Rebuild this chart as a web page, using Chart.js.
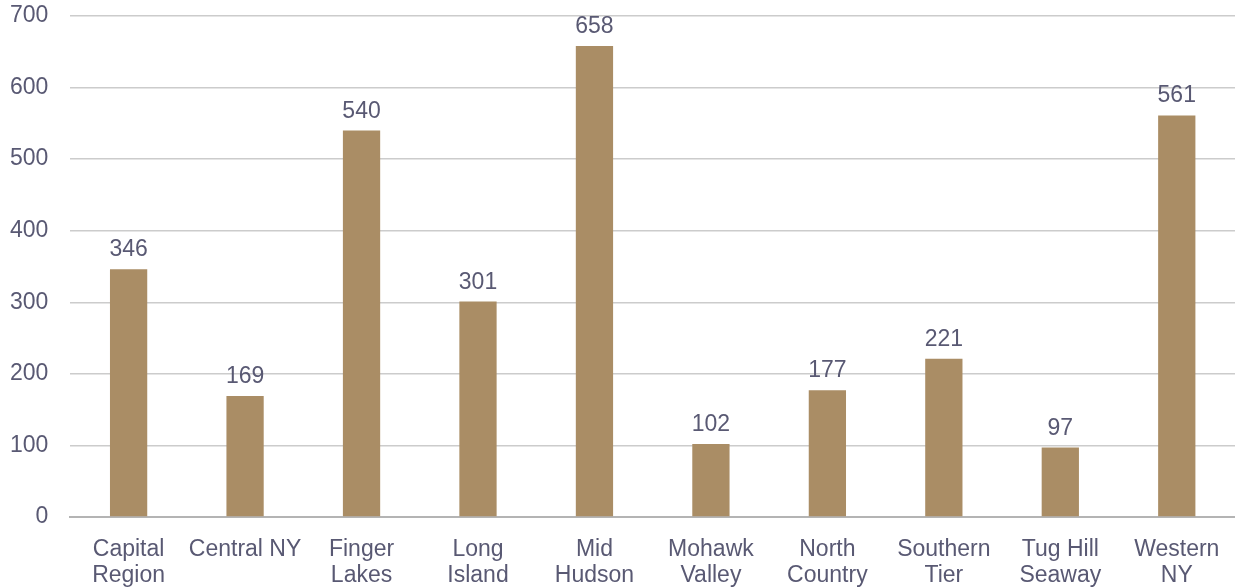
<!DOCTYPE html>
<html>
<head>
<meta charset="utf-8">
<script src="https://cdn.jsdelivr.net/npm/chart.js@4/dist/chart.umd.min.js"></script>
<style>
  html, body { margin: 0; padding: 0; background: #fff; }
  #wrap { width: 1235px; height: 587px; position: relative; }
</style>
</head>
<body>
<div id="wrap"><canvas id="chart-regions"></canvas></div>
<script>
const regions = [
  ['Capital', 'Region'], 'Central NY', ['Finger', 'Lakes'], ['Long', 'Island'],
  ['Mid', 'Hudson'], ['Mohawk', 'Valley'], ['North', 'Country'], ['Southern', 'Tier'],
  ['Tug Hill', 'Seaway'], ['Western', 'NY']
];
const counts = [346, 169, 540, 301, 658, 102, 177, 221, 97, 561];
const yTicks = [0, 100, 200, 300, 400, 500, 600, 700];

const textColor = '#595973';
const font = { family: '"Liberation Sans", Arial, sans-serif', size: 23 };

// value labels above each bar
const barValues = {
  id: 'barValues',
  afterDatasetsDraw(chart) {
    const ctx = chart.ctx;
    const meta = chart.getDatasetMeta(0);
    ctx.save();
    ctx.fillStyle = textColor;
    ctx.font = font.size + 'px ' + font.family;
    ctx.textAlign = 'center';
    ctx.textBaseline = 'alphabetic';
    meta.data.forEach(function(bar, i) {
      ctx.fillText(String(counts[i]), bar.x, bar.y - 13);
    });
    ctx.restore();
  }
};

window.generateRegionsChart = function() {
  const ctx = document.getElementById('chart-regions').getContext('2d');
  return new Chart(ctx, {
    type: 'bar',
    data: {
      labels: regions,
      datasets: [{
        label: 'Count',
        data: counts,
        backgroundColor: '#AA8D65',
        barPercentage: 0.32,
        categoryPercentage: 1
      }]
    },
    options: {
      responsive: true,
      maintainAspectRatio: false,
      animation: false,
      layout: { padding: { top: 16, left: 8, right: 0, bottom: -4 } },
      scales: {
        x: {
          // invisible tick marks push the labels down without padding the sides
          grid: { display: false, drawTicks: true, tickLength: 18, tickColor: 'rgba(0,0,0,0)' },
          border: { display: true, color: '#B4B4B4', width: 2 },
          ticks: {
            color: textColor,
            font: { family: font.family, size: font.size, lineHeight: 1.13 },
            padding: 2,
            maxRotation: 0,
            autoSkip: false
          }
        },
        y: {
          min: 0,
          max: 700,
          afterBuildTicks: function(axis) {
            axis.ticks = yTicks.map(function(v) { return { value: v }; });
          },
          grid: { color: '#CCCCCC', lineWidth: 1.5, drawTicks: true, tickLength: 20, tickColor: 'rgba(0,0,0,0)' },
          border: { display: false },
          ticks: {
            color: textColor,
            font: font,
            padding: 2
          }
        }
      },
      plugins: {
        legend: { display: false },
        tooltip: { enabled: false }
      }
    },
    plugins: [barValues]
  });
};

generateRegionsChart();
</script>
</body>
</html>
